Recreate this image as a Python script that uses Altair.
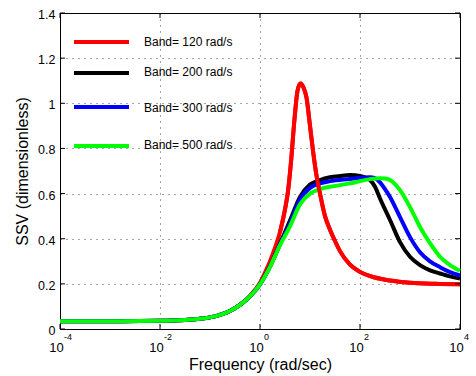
import altair as alt
import numpy as np
import pandas as pd

FONT = "Liberation Sans"

bands = ["Band= 120 rad/s", "Band= 200 rad/s", "Band= 300 rad/s", "Band= 500 rad/s"]
colors = ["#ff0000", "#000000", "#0000ff", "#00ff00"]

# log10(frequency) sample points and SSV values
red_logf = [-4, -3, -2, -1.5, -1.2, -0.8, -0.6, -0.4, -0.2, 0.0, 0.1, 0.2, 0.3, 0.4, 0.5,
            0.56, 0.62, 0.69, 0.75, 0.81, 0.87, 0.93, 1.0, 1.06, 1.13, 1.2, 1.3, 1.4, 1.5, 1.6,
            1.8, 2.0, 2.3, 2.6, 3.0, 3.5, 4.0]
red_ssv = [0.034, 0.034, 0.036, 0.040, 0.045, 0.063, 0.080, 0.108, 0.147, 0.205, 0.25, 0.30, 0.36, 0.43, 0.53,
           0.61, 0.74, 0.93, 1.055, 1.088, 1.07, 1.025, 0.90, 0.79, 0.68, 0.60, 0.50, 0.44, 0.39, 0.345,
           0.285, 0.253, 0.228, 0.215, 0.205, 0.20, 0.198]

black_logf = [-4, -3, -2, -1.5, -1.2, -0.8, -0.6, -0.4, -0.2, 0, 0.2, 0.4, 0.6, 0.8, 1.0,
              1.2, 1.4, 1.6, 1.8, 2.0, 2.1, 2.2, 2.3, 2.4, 2.5, 2.6, 2.8, 3.0, 3.2, 3.4, 3.6, 3.8, 4.0]
black_ssv = [0.034, 0.034, 0.036, 0.040, 0.045, 0.063, 0.080, 0.107, 0.145, 0.198, 0.277, 0.377, 0.48, 0.585, 0.64,
             0.66, 0.672, 0.678, 0.682, 0.678, 0.672, 0.66, 0.63, 0.578, 0.53, 0.483, 0.385, 0.32, 0.283, 0.26,
             0.246, 0.233, 0.224]

blue_logf = [-4, -3, -2, -1.5, -1.2, -0.8, -0.6, -0.4, -0.2, 0, 0.2, 0.4, 0.6, 0.8, 1.0,
             1.2, 1.4, 1.8, 2.0, 2.2, 2.3, 2.4, 2.5, 2.6, 2.8, 3.0, 3.2, 3.4, 3.6, 3.8, 4.0]
blue_ssv = [0.034, 0.034, 0.036, 0.040, 0.045, 0.063, 0.080, 0.107, 0.145, 0.198, 0.277, 0.376, 0.467, 0.575, 0.625,
            0.645, 0.655, 0.665, 0.67, 0.672, 0.668, 0.65, 0.62, 0.585, 0.496, 0.407, 0.34, 0.30, 0.274, 0.252,
            0.237]

green_logf = [-4, -3, -2, -1.5, -1.2, -0.8, -0.6, -0.4, -0.2, 0, 0.2, 0.4, 0.6, 0.8, 1.0,
              1.2, 1.4, 1.8, 2.0, 2.2, 2.4, 2.5, 2.6, 2.7, 2.8, 3.0, 3.2, 3.4, 3.6, 3.8, 4.0]
green_ssv = [0.034, 0.034, 0.036, 0.040, 0.045, 0.063, 0.080, 0.107, 0.145, 0.198, 0.275, 0.372, 0.455, 0.552, 0.60,
             0.62, 0.63, 0.645, 0.655, 0.664, 0.668, 0.667, 0.66, 0.642, 0.615, 0.54, 0.452, 0.38, 0.32, 0.283,
             0.258]

xtick_vals = [1e-4, 1e-2, 1e0, 1e2, 1e4]
xtick_exps = ["-4", "-2", "0", "2", "4"]
ytick_vals = [0, 0.2, 0.4, 0.6, 0.8, 1.0, 1.2, 1.4]

series = [(red_logf, red_ssv), (black_logf, black_ssv), (blue_logf, blue_ssv), (green_logf, green_ssv)]
frames = []
for (lf, sv), band in zip(series, bands):
    frames.append(pd.DataFrame({"freq": np.power(10.0, lf), "ssv": sv, "band": band}))

W, H = 400, 316
LW = 4

xaxis = alt.Axis(values=xtick_vals, labelExpr="'10'", labelOffset=-4, labelBaseline="alphabetic",
                 labelFlush=False, labelOverlap=False, labelBound=False,
                 labelPadding=22, ticks=False, domain=False, grid=True, gridDash=[1, 5],
                 gridColor="#000", gridOpacity=0.7, labelFont=FONT, labelFontSize=13, labelColor="#000",
                 title="Frequency (rad/sec)", titleFont=FONT, titleFontSize=16, titleFontWeight="normal",
                 titleColor="#000", titleBaseline="alphabetic", titleY=40)
yaxis = alt.Axis(values=ytick_vals, format="~g", labelPadding=5, labelOffset=1.5, ticks=False, domain=False,
                 labelFlush=False, grid=True, gridDash=[1, 5], gridColor="#000", gridOpacity=0.7, labelFont=FONT,
                 labelFontSize=12.5, labelColor="#000", title="SSV (dimensionless)", titleFont=FONT,
                 titleFontSize=16, titleFontWeight="normal", titleColor="#000", titleX=-38,
                 titleBaseline="middle")

X = alt.X("freq:Q", scale=alt.Scale(type="log", domain=[1e-4, 1e4]), axis=xaxis)
Y = alt.Y("ssv:Q", scale=alt.Scale(domain=[0, 1.4]), axis=yaxis)


def line(df, color):
    return alt.Chart(df).mark_line(color=color, strokeWidth=LW, interpolate="monotone").encode(x=X, y=Y)


layers = [line(frames[0], colors[0]), line(frames[1], colors[1]), line(frames[2], colors[2]),
          line(frames[3], colors[3]),
          alt.Chart(frames[0]).transform_filter(alt.datum.freq >= 2).mark_line(
              color=colors[0], strokeWidth=LW, interpolate="monotone").encode(x=X, y=Y)]

xt = pd.DataFrame({"freq": xtick_vals, "exp": xtick_exps})
yt = pd.DataFrame({"ssv": ytick_vals})
tick_style = dict(color="#000", strokeWidth=1)
layers += [
    alt.Chart(xt).mark_rule(**tick_style).encode(x=X, y=alt.value(H), y2=alt.value(H - 5)),
    alt.Chart(xt).mark_rule(**tick_style).encode(x=X, y=alt.value(0), y2=alt.value(5)),
    alt.Chart(yt).mark_rule(**tick_style).encode(y=Y, x=alt.value(0), x2=alt.value(5)),
    alt.Chart(yt).mark_rule(**tick_style).encode(y=Y, x=alt.value(W - 5), x2=alt.value(W)),
    alt.Chart(xt).mark_text(align="left", baseline="alphabetic", fontSize=9, font=FONT, color="#000",
                            dx=4).encode(x=X, y=alt.value(H + 11), text="exp:N"),
]

# manual legend (no box), rows as in the original figure
leg_line_y = [29, 60, 94, 133]
leg_text_y = [29, 59, 95, 132]
for i, (band, color) in enumerate(zip(bands, colors)):
    ldf = pd.DataFrame({"label": [band]})
    layers.append(alt.Chart(ldf).mark_rule(color=color, strokeWidth=LW).encode(
        x=alt.value(14), x2=alt.value(69), y=alt.value(leg_line_y[i])))
    layers.append(alt.Chart(ldf).mark_text(align="left", baseline="middle", fontSize=12, font=FONT,
                                           color="#000").encode(
        x=alt.value(84), y=alt.value(leg_text_y[i]), text="label:N"))

chart = alt.layer(*layers).properties(
    width=W, height=H, autosize="none",
    padding={"left": 60, "top": 13, "right": 16, "bottom": 47},
    background="white",
).configure_view(stroke="#000", strokeWidth=1)

chart.save("out.html", embed_options={"renderer": "svg", "actions": False})
